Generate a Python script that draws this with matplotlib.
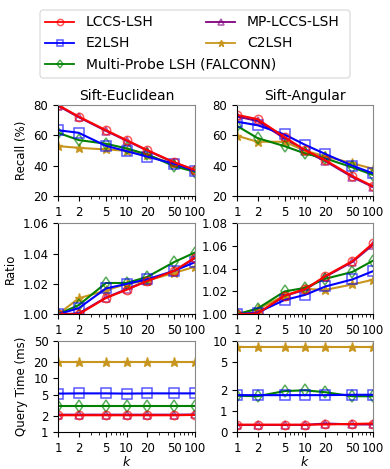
import matplotlib
matplotlib.use("Agg")
import matplotlib.pyplot as plt
from matplotlib.lines import Line2D
from matplotlib.patches import FancyBboxPatch
from matplotlib.ticker import NullFormatter, NullLocator
from matplotlib.colors import to_rgba

k_values = [1, 2, 5, 10, 20, 50, 100]

methods = ["LCCS-LSH", "E2LSH", "Multi-Probe LSH (FALCONN)", "MP-LCCS-LSH", "C2LSH"]
colors = {
    "LCCS-LSH": "red",
    "E2LSH": "blue",
    "Multi-Probe LSH (FALCONN)": "green",
    "MP-LCCS-LSH": "purple",
    "C2LSH": "#c8961e",
}
markers = {
    "LCCS-LSH": "o",
    "E2LSH": "s",
    "Multi-Probe LSH (FALCONN)": "d",
    "MP-LCCS-LSH": "^",
    "C2LSH": "*",
}

# Sift-Euclidean
recall_euc = {
    "LCCS-LSH": [80.0, 72.4, 63.4, 56.9, 50.3, 42.2, 37.2],
    "E2LSH": [63.4, 61.7, 53.1, 49.6, 46.0, 41.2, 36.6],
    "Multi-Probe LSH (FALCONN)": [61.7, 56.9, 54.5, 51.4, 47.5, 39.6, 36.0],
    "MP-LCCS-LSH": [79.5, 72.0, 63.0, 56.5, 50.0, 42.0, 37.0],
    "C2LSH": [52.9, 51.8, 50.7, 49.9, 47.0, 41.0, 37.0],
}
ratio_euc = {
    "LCCS-LSH": [1.000, 1.000, 1.0107, 1.0161, 1.0219, 1.0287, 1.0374],
    "E2LSH": [1.000, 1.004, 1.017, 1.020, 1.023, 1.0287, 1.0343],
    "Multi-Probe LSH (FALCONN)": [1.000, 1.006, 1.0206, 1.0206, 1.0246, 1.0345, 1.0407],
    "MP-LCCS-LSH": [1.000, 1.0005, 1.011, 1.0165, 1.022, 1.0285, 1.037],
    "C2LSH": [1.000, 1.0105, 1.0157, 1.020, 1.0222, 1.0273, 1.0313],
}
time_euc = {
    "LCCS-LSH": [2.05, 2.05, 2.05, 2.05, 2.05, 2.05, 2.08],
    "E2LSH": [5.2, 5.25, 5.25, 5.2, 5.25, 5.25, 5.25],
    "Multi-Probe LSH (FALCONN)": [3.0, 3.0, 3.0, 3.0, 3.0, 3.0, 3.0],
    "MP-LCCS-LSH": [2.1, 2.1, 2.1, 2.1, 2.1, 2.1, 2.12],
    "C2LSH": [20.5, 20.5, 20.5, 20.5, 20.5, 20.5, 20.5],
}

# Sift-Angular
recall_ang = {
    "LCCS-LSH": [73.5, 70.7, 58.9, 50.3, 43.6, 33.1, 26.5],
    "E2LSH": [69.0, 66.7, 60.6, 53.8, 47.7, 40.0, 35.0],
    "Multi-Probe LSH (FALCONN)": [66.2, 58.2, 52.9, 48.1, 44.8, 38.9, 34.0],
    "MP-LCCS-LSH": [72.5, 69.5, 58.0, 49.5, 43.0, 32.5, 26.0],
    "C2LSH": [59.7, 55.8, 55.8, 49.9, 46.2, 41.6, 38.0],
}
ratio_ang = {
    "LCCS-LSH": [1.000, 1.0006, 1.0164, 1.022, 1.0336, 1.0467, 1.0622],
    "E2LSH": [1.000, 1.0015, 1.0125, 1.017, 1.0244, 1.0306, 1.0378],
    "Multi-Probe LSH (FALCONN)": [1.000, 1.005, 1.020, 1.0232, 1.0312, 1.0372, 1.047],
    "MP-LCCS-LSH": [1.000, 1.0005, 1.016, 1.0215, 1.033, 1.046, 1.061],
    "C2LSH": [1.000, 1.0045, 1.0164, 1.0223, 1.0214, 1.0262, 1.0303],
}
time_ang = {
    "LCCS-LSH": [0.635, 0.635, 0.635, 0.635, 0.64, 0.65, 0.66],
    "E2LSH": [1.68, 1.68, 1.68, 1.68, 1.68, 1.7, 1.7],
    "Multi-Probe LSH (FALCONN)": [1.65, 1.62, 1.92, 1.97, 1.85, 1.62, 1.62],
    "MP-LCCS-LSH": [0.63, 0.63, 0.63, 0.63, 0.66, 0.64, 0.64],
    "C2LSH": [8.25, 8.25, 8.25, 8.25, 8.25, 8.25, 8.25],
}

titles = ["Sift-Euclidean", "Sift-Angular"]
row_data = [
    [recall_euc, recall_ang],
    [ratio_euc, ratio_ang],
    [time_euc, time_ang],
]
ylabels = ["Recall (%)", "Ratio", "Query Time (ms)"]

W, H = 390, 469
plt.rcParams["font.size"] = 8.5
fig = plt.figure(figsize=(W / 100, H / 100), dpi=100)

col_x = [(0.149, 0.351), (0.608, 0.348)]
row_y = [(0.582, 0.194), (0.330, 0.194), (0.079, 0.194)]

draw_order = ["MP-LCCS-LSH", "C2LSH", "Multi-Probe LSH (FALCONN)", "E2LSH", "LCCS-LSH"]


def style(name, size=6.0, lw=1.5):
    mk = markers[name]
    col = colors[name]
    if mk == "*":
        return dict(color=col, marker=mk, markersize=size + 0.5, markerfacecolor=col,
                    markeredgecolor=col, markeredgewidth=1.0, linewidth=lw)
    return dict(color=col, marker=mk, markersize=size if mk != "s" else size + 0.5,
                markerfacecolor="none", markeredgecolor=to_rgba(col, 0.65),
                markeredgewidth=1.1, linewidth=lw)


for r in range(3):
    for c in range(2):
        x0, w = col_x[c]
        y0, h = row_y[r]
        ax = fig.add_axes([x0, y0, w, h])
        data = row_data[r][c]
        for name in draw_order:
            ax.plot(k_values, data[name], **style(name))

        ax.set_xscale("log")
        ax.set_xlim(1, 100)
        ax.set_xticks(k_values)
        ax.set_xticklabels([str(k) for k in k_values])
        ax.xaxis.set_minor_formatter(NullFormatter())
        ax.tick_params(labelsize=8.5)
        for side in ["top", "right"]:
            ax.spines[side].set_color("#888888")

        if r == 0:
            ax.set_ylim(20, 80)
            ax.set_yticks([20, 40, 60, 80])
            ax.set_title(titles[c], fontsize=10, pad=4)
        elif r == 1:
            if c == 0:
                ax.set_ylim(1.0, 1.06)
                ax.set_yticks([1.00, 1.02, 1.04, 1.06])
            else:
                ax.set_ylim(1.0, 1.08)
                ax.set_yticks([1.00, 1.02, 1.04, 1.06, 1.08])
        else:
            ax.set_yscale("log")
            if c == 0:
                ax.set_ylim(1, 50)
                yt = [1, 2, 5, 10, 20, 50]
                ax.set_yticks(yt)
                ax.set_yticklabels([str(v) for v in yt])
            else:
                ax.set_ylim(0.5, 10)
                yt = [0.5, 1, 2, 5, 10]
                ax.set_yticks(yt)
                ax.set_yticklabels(["%d" % v for v in yt])
            ax.yaxis.set_minor_locator(NullLocator())
            ax.set_xlabel("$k$", labelpad=0, fontsize=9)

        if c == 0:
            ax.set_ylabel(ylabels[r], fontsize=8.5)

# legend drawn by hand: the long FALCONN entry runs under the second column
def fx(px):
    return px / W


def fy(py):
    return 1 - py / H


box = FancyBboxPatch((fx(40), fy(78)), fx(310), 68 / H,
                     boxstyle="round,pad=0,rounding_size=0.008",
                     transform=fig.transFigure, facecolor="white",
                     edgecolor="#cccccc", linewidth=0.8, alpha=0.8)
fig.add_artist(box)

legend_slots = {
    "LCCS-LSH": (45, 86, 22),
    "E2LSH": (45, 86, 43),
    "Multi-Probe LSH (FALCONN)": (45, 86, 64),
    "MP-LCCS-LSH": (206, 247, 22),
    "C2LSH": (206, 247, 43),
}
for name in methods:
    hx, tx, ry = legend_slots[name]
    xs = [fx(hx), fx(hx + 14.5), fx(hx + 29)]
    ys = [fy(ry)] * 3
    fig.add_artist(Line2D(xs, ys, transform=fig.transFigure, markevery=[1],
                          **style(name, size=4.5, lw=1.3)))
    fig.text(fx(tx), fy(ry), name, fontsize=10, va="center", ha="left")

fig.savefig("out.png", dpi=100)
